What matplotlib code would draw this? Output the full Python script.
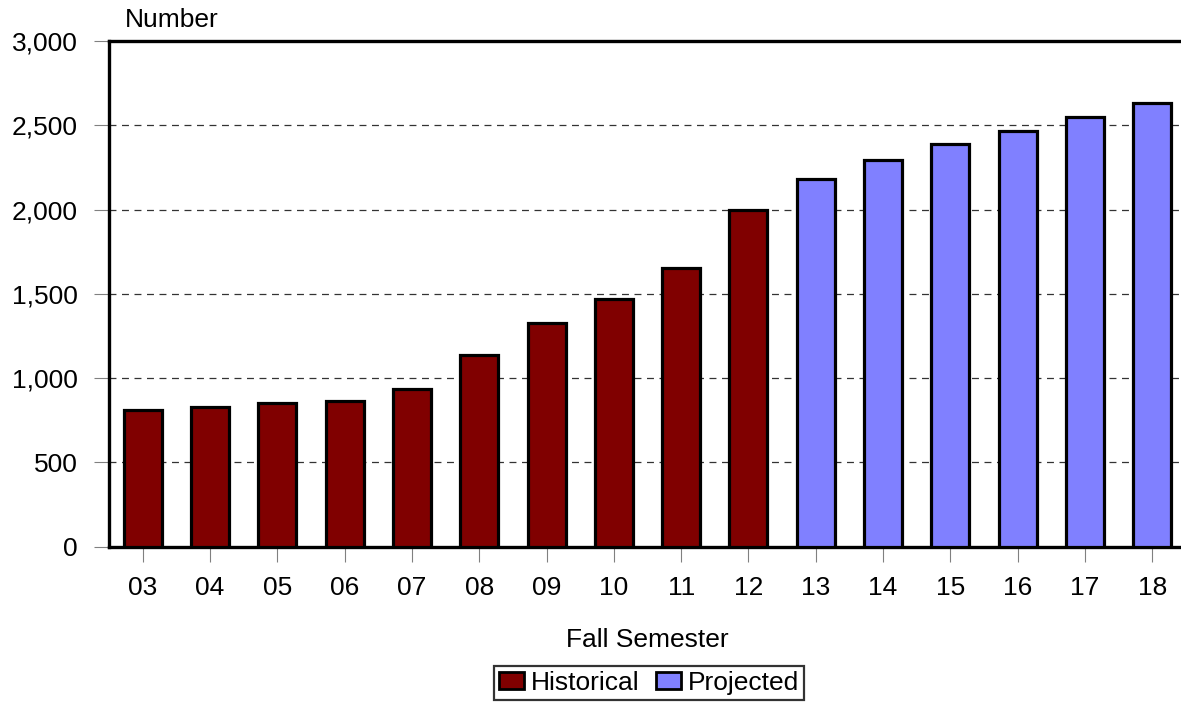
import matplotlib
matplotlib.use("Agg")
import matplotlib.pyplot as plt
from matplotlib.patches import Patch

plt.rcParams['font.family'] = ['Liberation Sans', 'DejaVu Sans']
plt.rcParams['lines.scale_dashes'] = False

years = ["03", "04", "05", "06", "07", "08", "09", "10", "11", "12",
         "13", "14", "15", "16", "17", "18"]
historical = [810, 830, 854, 866, 937, 1138, 1328, 1466, 1654, 1995]
projected = [2181, 2292, 2390, 2463, 2550, 2631]
y_ticks = [0, 500, 1000, 1500, 2000, 2500, 3000]

W, H = 1181, 707
FS = 19
fig = plt.figure(figsize=(W / 100, H / 100), dpi=100)
ax = fig.add_axes([109 / W, 1 - 546.5 / H, 1077 / W, 505.5 / H])

x_hist = list(range(len(historical)))
x_proj = list(range(len(historical), len(historical) + len(projected)))
bw = 0.565
ax.bar(x_hist, historical, width=bw, color="#800000", edgecolor="black",
       linewidth=2.3, zorder=3)
ax.bar(x_proj, projected, width=bw, color="#8080FF", edgecolor="black",
       linewidth=2.3, zorder=3)

ax.set_xlim(-0.5, 15.5)
ax.set_ylim(0, 3000)
ax.set_yticks(y_ticks)
ax.set_yticklabels([f"{v:,}" for v in y_ticks])
ax.set_xticks(range(len(years)))
ax.set_xticklabels(years)

for v in y_ticks[1:-1]:
    ax.axhline(v, color="#333333", linewidth=0.9, linestyle=(0, (5, 4)), zorder=1)

for s in ax.spines.values():
    s.set_linewidth(2.4)
    s.set_color("black")

ax.tick_params(axis='y', length=11, width=0.8, color="#808080", pad=11.5,
               labelsize=FS)
ax.tick_params(axis='x', length=11, width=0.8, color="#808080", pad=10,
               labelsize=FS)

fig.text(125 / W, 1 - 27 / H, "Number", fontsize=FS, ha="left", va="baseline")
fig.text(647 / W, 1 - 640 / H, "Fall Semester", fontsize=FS, ha="center",
         va="center")

handles = [Patch(facecolor="#800000", edgecolor="black", linewidth=2.0),
           Patch(facecolor="#8080FF", edgecolor="black", linewidth=2.0)]
leg = fig.legend(handles, ["Historical", "Projected"], loc="center",
                 bbox_to_anchor=(649 / W, 1 - 683 / H), ncol=2, fontsize=FS,
                 frameon=True, fancybox=False, shadow=False,
                 handlelength=0.95, handleheight=0.6, handletextpad=0.25,
                 columnspacing=0.65, borderpad=0.2, borderaxespad=0)
leg.get_frame().set_edgecolor("black")
leg.get_frame().set_linewidth(1.6)

fig.savefig("out.png", dpi=100)
